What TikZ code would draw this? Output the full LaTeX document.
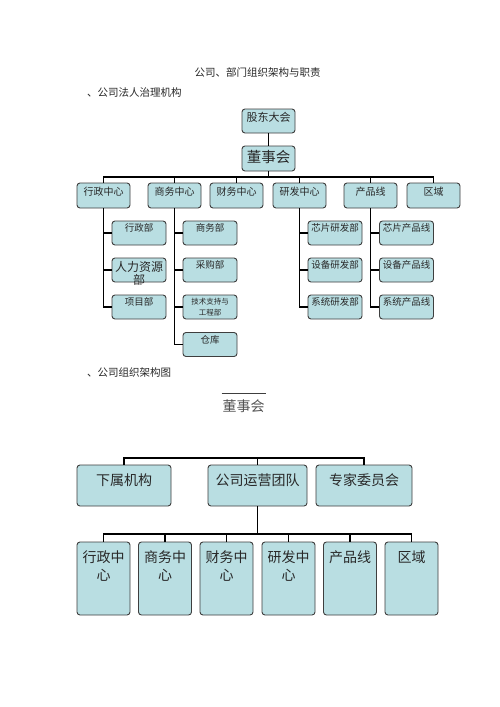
\documentclass[tikz,border=0pt]{standalone}
\usepackage{fontspec}
\newfontfamily\cjk{Noto Sans CJK SC}
\definecolor{boxfill}{RGB}{185,222,226}
\definecolor{boxline}{RGB}{62,62,62}
\definecolor{ink}{RGB}{40,40,40}
\tikzset{
  unit/.style={draw=boxline, fill=boxfill, line width=0.9pt, rounded corners=3pt, align=center, inner sep=2pt, text=ink},
  hq/.style={unit, text width=49pt},
  ctr/.style={unit, text width=49pt, text height=10.8pt, text depth=10.2pt, font=\cjk\fontsize{10}{12}\selectfont},
  dept/.style={unit, text width=50pt, text height=8.9pt, text depth=11.1pt, font=\cjk\fontsize{9.5}{11.5}\selectfont},
  team/.style={unit, text height=18.3pt, text depth=18.7pt, font=\cjk\fontsize{14}{18}\selectfont},
  pillar/.style={unit, text width=49pt, text height=18.3pt, text depth=50.7pt, font=\cjk\fontsize{14}{18}\selectfont},
  heading/.style={anchor=west, inner sep=0pt, text=ink, font=\cjk\fontsize{10.5}{12}\selectfont},
  trunk/.style={line width=1.4pt},
  link/.style={line width=1.2pt}
}
\begin{document}
\begin{tikzpicture}[x=1pt, y=-1pt]
\useasboundingbox[fill=white] (0,0) rectangle (500,707);
\node[heading, anchor=center] (title) at (257.5,72) {公司、部门组织架构与职责};
\node[heading] (sec1) at (87,93) {、公司法人治理机构};
\node[heading] (sec2) at (87,373) {、公司组织架构图};

\node[hq, text height=10.5pt, text depth=9.5pt, font=\cjk\fontsize{11}{13}\selectfont] (gd) at (268.5,121) {股东大会};
\node[hq, text height=14.8pt, text depth=6.2pt, font=\cjk\fontsize{14.5}{16}\selectfont] (dsh) at (268.5,158.5) {董事会};
\foreach \n/\x/\t in {xz/103.5/行政中心, sw/174.5/商务中心, cw/236.5/财务中心, yf/299.5/研发中心, cp/370.5/产品线, qy/433.5/区域}
  \node[ctr] (\n) at (\x,195.5) {\t};
\foreach \n/\x/\y/\t in {xz1/139/233/行政部, xz3/139/307/项目部, sw1/210/233/商务部, sw2/210/270/采购部, sw4/210/344.5/仓库, yf1/335/233/芯片研发部, yf2/335/270/设备研发部, yf3/335/307/系统研发部, cp1/406.5/233/芯片产品线, cp2/406.5/270/设备产品线, cp3/406.5/307/系统产品线}
  \node[dept] (\n) at (\x,\y) {\t};
\node[dept, text height=11.3pt, text depth=8.7pt, font=\cjk\fontsize{12}{13.5}\selectfont] (xz2) at (139,270) {人力资源\\部};
\node[dept, text height=7.6pt, text depth=12.4pt, font=\cjk\fontsize{7.5}{10.6}\selectfont] (sw3) at (210,307) {技术支持与\\工程部};

\coordinate (bus1) at (268.5,177);
\draw[trunk] (gd) -- (dsh);
\draw[trunk] (dsh.south) -- (bus1);
\foreach \n in {xz, sw, cw, yf, cp, qy}
  \draw[trunk] (bus1) -| (\n.north);
\foreach \p/\c in {xz/xz1, xz/xz2, xz/xz3, sw/sw1, sw/sw2, sw/sw3, sw/sw4, yf/yf1, yf/yf2, yf/yf3, cp/cp1, cp/cp2, cp/cp3}
  \draw[trunk] (\p.south) |- (\c.west);

\node[inner sep=0pt, minimum width=44pt, text=ink!80, font=\cjk\fontsize{14}{16}\selectfont] (board) at (243.7,406) {董事会};
\draw[boxline, line width=0.8pt] (221.7,393.3) -- (265.7,393.3);
\node[team, text width=90pt] (xs) at (124,485.5) {下属机构};
\node[team, text width=95pt] (yy) at (257.5,485.5) {公司运营团队};
\node[team, text width=92pt] (zj) at (364,485.5) {专家委员会};
\foreach \n/\x/\t in {xzb/103.5/行政中\\心, swb/165/商务中\\心, cwb/226.5/财务中\\心, yfb/288.5/研发中\\心, cpb/350/产品线, qyb/411.5/区域}
  \node[pillar] (\n) at (\x,578.5) {\t};

\coordinate (bus2) at (257.5,458);
\coordinate (bus3) at (257.5,534);
\foreach \n in {xs, yy, zj}
  \draw[link] (bus2) -| (\n.north);
\draw[link] (yy.south) -- (bus3);
\foreach \n in {xzb, swb, cwb, yfb, cpb, qyb}
  \draw[link] (bus3) -| (\n.north);
\end{tikzpicture}
\end{document}
